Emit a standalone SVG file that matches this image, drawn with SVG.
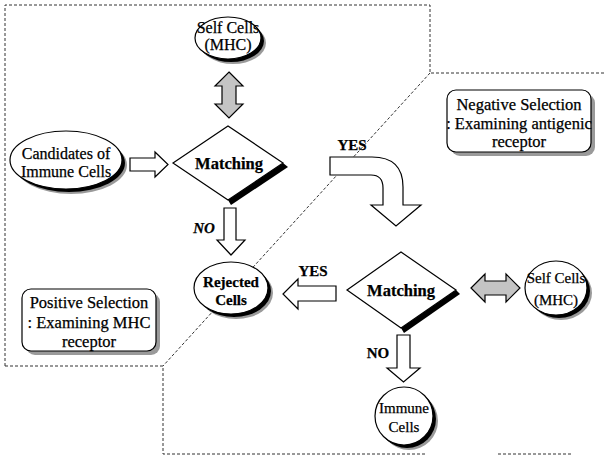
<svg xmlns="http://www.w3.org/2000/svg" width="606" height="456" viewBox="0 0 606 456">
<style>
text{font-family:"Liberation Serif","Times New Roman","DejaVu Serif",serif;fill:#000;stroke:#000;stroke-width:0.25;text-anchor:middle}
.n{fill:#fff;stroke:#000;stroke-width:1.2}
.sh{fill:#000}
.sg{fill:#9a9a9a}
.ar{fill:#fff;stroke:#000;stroke-width:1.2;stroke-linejoin:miter}
.ga{fill:#c4c4c4;stroke:#000;stroke-width:1.2}
.d{fill:none;stroke:#333;stroke-width:1;stroke-dasharray:3,2}
.s15{font-size:15px}
.s16{font-size:16px}
.s165{font-size:16.5px}
.b{font-weight:bold}
</style>
<rect width="606" height="456" fill="#fff"/>
<g id="regions">
<polyline class="d" points="5,366 5,5 430,5 430,73 606,73"/>
<line class="d" x1="430" y1="73" x2="163" y2="366"/>
<polyline class="d" points="5,366 163,366 163,454 427,454"/>
<line class="d" x1="498" y1="454" x2="573" y2="454" stroke-dasharray="2,2"/>
</g>
<g id="connectors">
<path class="ga" d="M229,72 L243,86 L236,86 L236,104 L243,104 L229,118 L215,104 L222,104 L222,86 L215,86 Z"/>
<path class="ar" d="M130,158 L155,158 L155,152 L168,164.5 L155,177 L155,171 L130,171 Z"/>
<path class="ar" d="M224,208 L236,208 L236,240 L245,240 L231,255 L217,240 L224,240 Z"/>
<text class="s15 b" x="204" y="233" font-style="italic">NO</text>
<path class="ar" d="M330,157 L372,157 Q403,157 403,187 L403,205 L421,205 L396,226 L371,205 L383,205 L383,188 Q383,175 371,175 L330,175 Z"/>
<text class="s15 b" x="352" y="150">YES</text>
<path class="ar" d="M336,286 L298,286 L298,279 L283,294 L298,309 L298,301 L336,301 Z"/>
<text class="s15 b" x="313" y="276">YES</text>
<path class="ga" d="M471,288 L485,274 L485,281 L506,281 L506,274 L520,288 L506,302 L506,295 L485,295 L485,302 Z"/>
<path class="ar" d="M397,335 L410,335 L410,368 L420,368 L403.5,382 L387,368 L397,368 Z"/>
<text class="s15 b" x="378" y="358">NO</text>
</g>
<g id="selfTop">
<ellipse class="sg" cx="233" cy="43" rx="33" ry="21"/>
<ellipse class="sh" cx="231" cy="41" rx="33" ry="21"/>
<ellipse class="n" cx="228" cy="38" rx="33" ry="21"/>
<text class="s16" x="228" y="33">Self Cells</text>
<text class="s16" x="228" y="50">(MHC)</text>
</g>
<g id="candidates">
<ellipse class="sg" cx="71" cy="165" rx="56" ry="29"/>
<ellipse class="sh" cx="69" cy="163" rx="56" ry="29"/>
<ellipse class="n" cx="66" cy="160" rx="56" ry="29"/>
<text class="s16" x="66" y="159">Candidates of</text>
<text class="s16" x="66" y="177">Immune Cells</text>
</g>
<g id="matching1">
<polygon class="sh" points="283,163 228,200 231,205 288,167"/>
<polygon class="n" points="173,163 228,126 283,163 228,200"/>
<text class="s165 b" x="229" y="169">Matching</text>
</g>
<g id="rejected">
<ellipse class="sg" cx="236" cy="293" rx="37" ry="26"/>
<ellipse class="sh" cx="234" cy="291" rx="37" ry="26"/>
<ellipse class="n" cx="231" cy="288" rx="37" ry="26"/>
<text class="s15 b" x="231" y="287">Rejected</text>
<text class="s15 b" x="231" y="305">Cells</text>
</g>
<g id="matching2">
<polygon class="sh" points="456,290 401,328 404,333 460,294"/>
<polygon class="n" points="347,290 401,252 456,290 401,328"/>
<text class="s165 b" x="401" y="296">Matching</text>
</g>
<g id="selfRight">
<ellipse class="sg" cx="561" cy="293" rx="31" ry="27"/>
<ellipse class="sh" cx="559" cy="291" rx="31" ry="27"/>
<ellipse class="n" cx="556" cy="288" rx="31" ry="27"/>
<text class="s15" x="556" y="283">Self Cells</text>
<text class="s15" x="556" y="305">(MHC)</text>
</g>
<g id="immune">
<ellipse class="sg" cx="409" cy="421" rx="29" ry="29"/>
<ellipse class="sh" cx="407" cy="419" rx="29" ry="29"/>
<ellipse class="n" cx="404" cy="416" rx="29" ry="29"/>
<text class="s15" x="404" y="413">Immune</text>
<text class="s15" x="404" y="432">Cells</text>
</g>
<g id="negative">
<rect class="sg" x="451" y="94" width="144" height="62" rx="9"/>
<rect class="n" x="447" y="90" width="144" height="62" rx="9"/>
<text class="s165" x="519" y="110">Negative Selection</text>
<text class="s165" x="519" y="129">: Examining antigenic</text>
<text class="s165" x="519" y="147">receptor</text>
</g>
<g id="positive">
<rect class="sg" x="26" y="293" width="134" height="62" rx="9"/>
<rect class="n" x="22" y="289" width="134" height="62" rx="9"/>
<text class="s165" x="89" y="308">Positive Selection</text>
<text class="s165" x="89" y="328">: Examining MHC</text>
<text class="s165" x="89" y="347">receptor</text>
</g>
</svg>
